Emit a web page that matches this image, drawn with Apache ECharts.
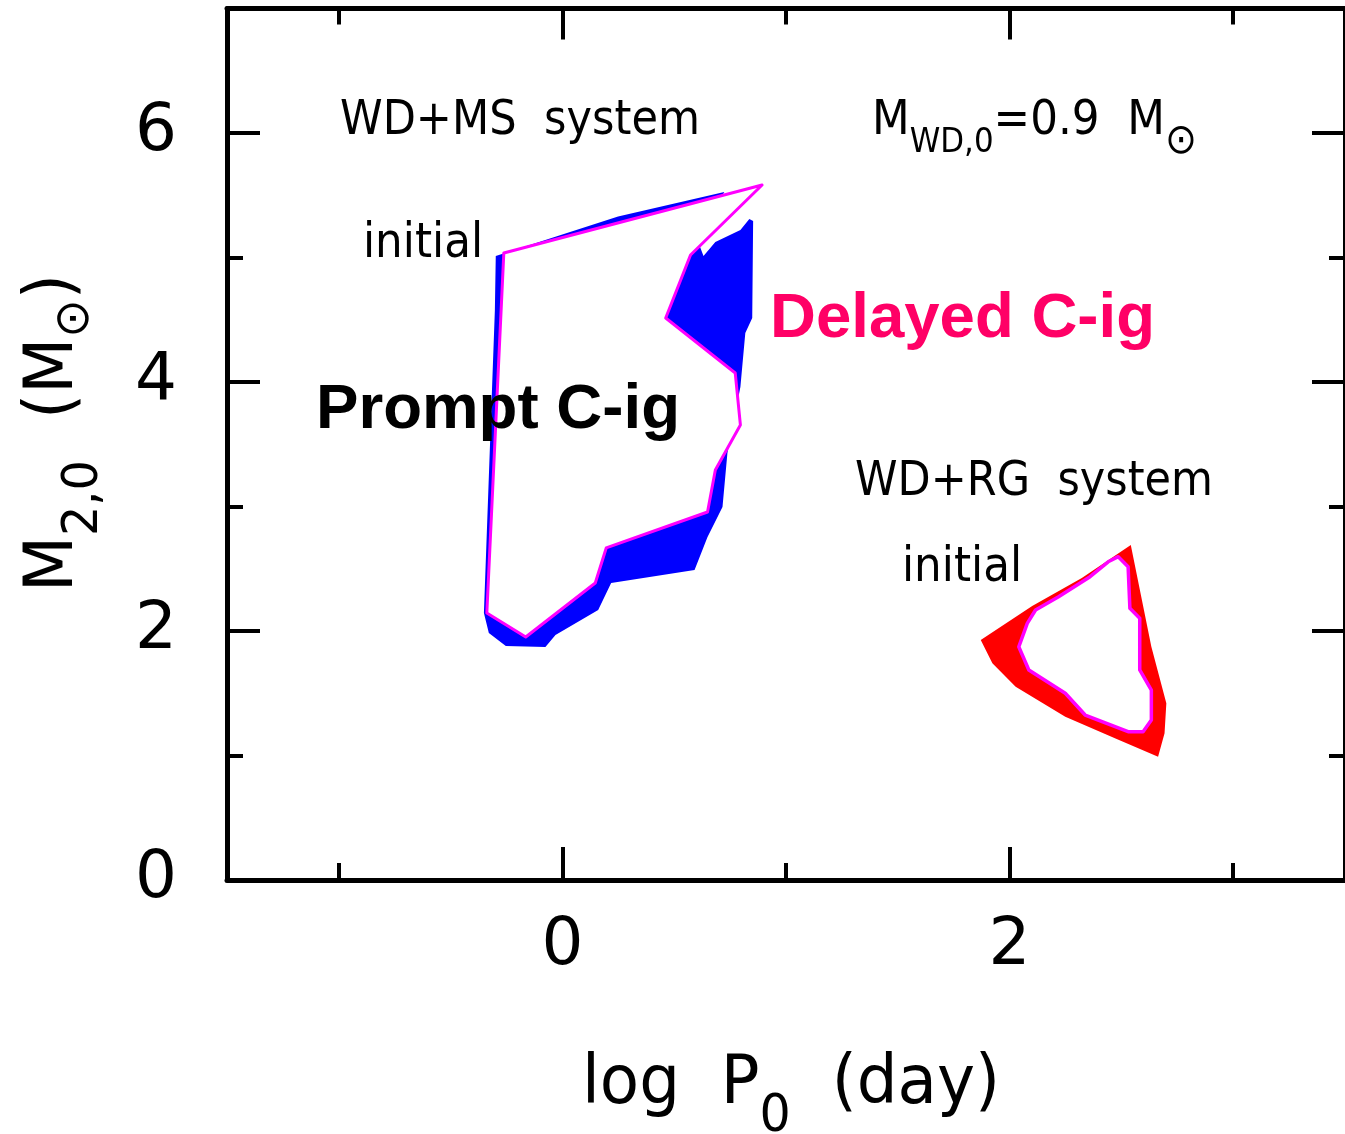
<!DOCTYPE html>
<html>
<head>
<meta charset="utf-8">
<title>C ignition regions: WD+MS and WD+RG systems</title>
<script src="https://cdn.jsdelivr.net/npm/echarts@6/dist/echarts.min.js"></script>
<style>
  html, body { margin: 0; padding: 0; background: #fff; }
  #chart { width: 1345px; height: 1134px; }
</style>
</head>
<body>
<div id="chart"></div>
<script>
// WD+MS channel: region reaching C ignition (final) and the initial-parameter region
const msCigLogP = [-0.298, 0.249, 0.724, 0.604, 0.631, 0.684, 0.796, 0.836, 0.853, 0.849, 0.818, 0.796, 0.738, 0.716, 0.649, 0.591, 0.218, 0.160, -0.031, -0.076, -0.253, -0.329, -0.351, -0.302];
const msCigM2   = [5.012, 5.330, 5.526, 5.141, 5.012, 5.124, 5.221, 5.309, 5.293, 4.514, 4.394, 3.960, 3.430, 2.996, 2.755, 2.490, 2.386, 2.169, 1.968, 1.871, 1.880, 1.984, 2.145, 4.578];
const msInitLogP = [-0.262, 0.893, 0.573, 0.462, 0.773, 0.796, 0.684, 0.649, 0.196, 0.147, -0.164, -0.338];
const msInitM2   = [5.036, 5.582, 5.020, 4.514, 4.072, 3.655, 3.293, 2.956, 2.667, 2.386, 1.952, 2.145];

// WD+RG channel
const rgCigLogP = [1.871, 2.101, 2.323, 2.542, 2.634, 2.701, 2.693, 2.664, 2.471, 2.249, 2.027, 1.923];
const rgCigM2   = [1.928, 2.201, 2.426, 2.691, 1.874, 1.419, 1.178, 0.990, 1.138, 1.312, 1.553, 1.740];
const rgInitLogP = [2.486, 2.530, 2.538, 2.582, 2.582, 2.634, 2.634, 2.597, 2.530, 2.338, 2.249, 2.086, 2.041, 2.079, 2.116, 2.219, 2.360, 2.441];
const rgInitM2   = [2.597, 2.516, 2.182, 2.102, 1.687, 1.526, 1.285, 1.191, 1.191, 1.325, 1.500, 1.687, 1.873, 2.061, 2.169, 2.275, 2.436, 2.556];

// Axis ranges and tick positions
const xRange = [-1.5, 3.5];
const yRange = [0, 7];
const xMajorTicks = [0, 2];
const xMinorTicks = [-1, 1, 3];
const yMajorTicks = [2, 4, 6];
const yMinorTicks = [1, 3, 5];
const xTickLabels = [0, 2];
const yTickLabels = [0, 2, 4, 6];

const SANS = 'DejaVu Sans';
const BOLD = 'Liberation Sans';

const chart = echarts.init(document.getElementById('chart'), null, { renderer: 'canvas' });

const ctx = document.createElement('canvas').getContext('2d');
function measure(text, size, family, weight) {
  ctx.font = `${weight || 'normal'} ${size}px "${family}"`;
  return ctx.measureText(text).width;
}

// Lays out a run of text pieces (with sub-scripts) left to right and
// squeezes it horizontally to the requested width.
function textRun(pieces, left, cy, width, color, rotation) {
  let x = 0;
  const children = [];
  pieces.forEach(p => {
    const fam = p.family || SANS;
    children.push({
      type: 'text', x: x, y: p.dy || 0, z: 100,
      style: {
        text: p.text, fill: color, fontSize: p.size, fontFamily: fam,
        fontWeight: p.weight || 'normal',
        align: 'left', verticalAlign: 'middle',
        textAlign: 'left', textVerticalAlign: 'middle'
      }
    });
    x += measure(p.text, p.size, fam, p.weight) + (p.gap || 0);
  });
  return {
    type: 'group', x: left, y: cy, rotation: rotation || 0,
    scaleX: width / x, scaleY: 1, children: children, z: 100
  };
}

function polygonSeries(xs, ys, fill, stroke, lineWidth, z) {
  const data = xs.map((x, i) => [x, ys[i]]);
  return {
    type: 'custom', xAxisIndex: 0, yAxisIndex: 0, z: z,
    clip: false, silent: true,
    data: data,
    encode: { x: 0, y: 1 },
    renderItem: function (params, api) {
      if (params.dataIndex !== 0) return null;
      const pts = data.map(p => api.coord(p));
      return {
        type: 'polygon',
        shape: { points: pts },
        style: { fill: fill, stroke: stroke, lineWidth: lineWidth, lineJoin: 'round' }
      };
    }
  };
}

function xAxisDef(position, ticks, len, showLine, labels) {
  return {
    type: 'value', position: position, min: xRange[0], max: xRange[1],
    splitLine: { show: false },
    axisLine: { show: showLine, onZero: false, lineStyle: { color: '#000', width: 5 } },
    axisTick: { show: true, inside: true, length: len, customValues: ticks,
                lineStyle: { color: '#000', width: 4 } },
    axisLabel: labels ? {
      show: true, customValues: labels, margin: 34, color: '#000',
      fontSize: 66, fontFamily: SANS
    } : { show: false }
  };
}
function yAxisDef(position, ticks, len, showLine, labels) {
  return {
    type: 'value', position: position, min: yRange[0], max: yRange[1],
    splitLine: { show: false },
    axisLine: { show: showLine, onZero: false, lineStyle: { color: '#000', width: 5 } },
    axisTick: { show: true, inside: true, length: len, customValues: ticks,
                lineStyle: { color: '#000', width: 4 } },
    axisLabel: labels ? {
      show: true, customValues: labels, margin: 50, color: '#000',
      fontSize: 66, fontFamily: SANS
    } : { show: false }
  };
}

const option = {
  animation: false,
  backgroundColor: '#fff',
  grid: { left: 227, top: 8.5, width: 1124, height: 871.5, containLabel: false },
  xAxis: [
    xAxisDef('bottom', xMajorTicks, 33, true, xTickLabels),
    xAxisDef('bottom', xMinorTicks, 17, false, null),
    xAxisDef('top', xMajorTicks, 31, true, null),
    xAxisDef('top', xMinorTicks, 16, false, null)
  ],
  yAxis: [
    yAxisDef('left', yMajorTicks, 33, true, yTickLabels),
    yAxisDef('left', yMinorTicks, 16, false, null),
    yAxisDef('right', yMajorTicks, 33, true, null),
    yAxisDef('right', yMinorTicks, 16, false, null)
  ],
  series: [
    polygonSeries(msCigLogP, msCigM2, '#0000ff', null, 0, 2),
    polygonSeries(msInitLogP, msInitM2, '#ffffff', '#ff00ff', 3, 3),
    polygonSeries(rgCigLogP, rgCigM2, '#ff0000', null, 0, 2),
    polygonSeries(rgInitLogP, rgInitM2, '#ffffff', '#ff00ff', 3.5, 3)
  ],
  graphic: [
    textRun([{ text: 'WD+MS  system', size: 48 }], 340, 122, 360, '#000'),
    textRun([{ text: 'initial', size: 48 }], 363, 245, 120, '#000'),
    textRun([
      { text: 'M', size: 48 },
      { text: 'WD,0', size: 34, dy: 21 },
      { text: '=0.9  M', size: 48 },
      { text: '⊙', size: 42, dy: 20 }
    ], 872, 122, 325, '#000'),
    textRun([{ text: 'Delayed C-ig', size: 63, family: BOLD, weight: 'bold' }], 770, 320, 385, '#ff0066'),
    textRun([{ text: 'Prompt C-ig', size: 63, family: BOLD, weight: 'bold' }], 316, 411, 364, '#000'),
    textRun([{ text: 'WD+RG  system', size: 48 }], 855, 483, 358, '#000'),
    textRun([{ text: 'initial', size: 48 }], 902, 569, 120, '#000'),
    // axis titles
    textRun([
      { text: 'log  P', size: 68 },
      { text: '0', size: 52, dy: 32 },
      { text: '  (day)', size: 68 }
    ], 582, 1085, 418, '#000'),
    textRun([
      { text: 'M', size: 68 },
      { text: '2,0', size: 50, dy: 30 },
      { text: '  (M', size: 68 },
      { text: '⊙', size: 48, dy: 22 },
      { text: ')', size: 68 }
    ], 54, 592, 318, '#000', Math.PI / 2)
  ]
};

chart.setOption(option);
</script>
</body>
</html>
